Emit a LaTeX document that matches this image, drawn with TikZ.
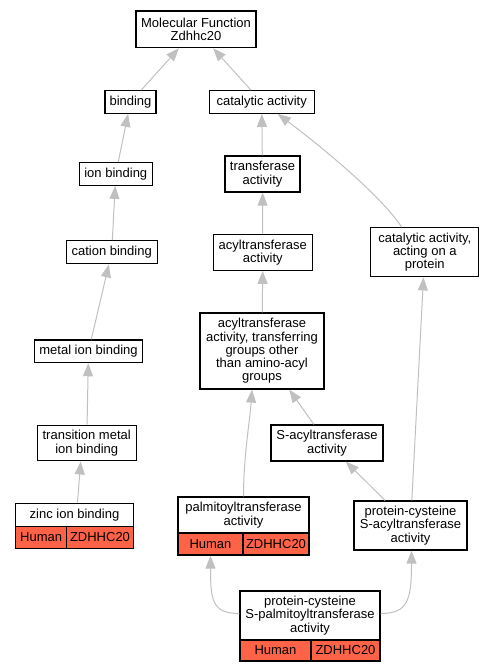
\documentclass[tikz,border=0pt]{standalone}
\usepackage{fontspec}
\setmainfont{Liberation Sans}
\usetikzlibrary{arrows.meta,calc}
\definecolor{edgegray}{RGB}{192,192,192}
\definecolor{genefill}{RGB}{255,99,71}
\newcommand{\nodefont}{\fontsize{13}{13.3}\selectfont}
\tikzset{
  box/.style={draw=black, line width=1.2pt, fill=white, inner sep=0pt, align=center, font=\nodefont},
  cell/.style={box, fill=genefill},
  edge/.style={draw=edgegray, line width=1pt, -{Triangle[length=13pt,width=10pt]}}
}
\begin{document}
\begin{tikzpicture}[x=1pt,y=-1pt]
\useasboundingbox (0,0) rectangle (495,672);
% plain term nodes
\node[box, minimum width=120pt, minimum height=36.7pt] (mf) at (196,29.3) {Molecular Function\\Zdhhc20};
\node[box, minimum width=51pt, minimum height=22.6pt] (bind) at (130.5,102) {binding};
\node[box, minimum width=105pt, minimum height=22.6pt] (cat) at (261.7,102) {catalytic activity};
\node[box, minimum width=73pt, minimum height=22.6pt] (ion) at (115.8,174) {ion binding};
\node[box, minimum width=75pt, minimum height=36pt] (trans) at (262.5,174) {transferase\\activity};
\node[box, minimum width=91pt, minimum height=23pt] (cation) at (111.7,252.3) {cation binding};
\node[box, minimum width=99pt, minimum height=36pt] (acyl) at (262.8,252.3) {acyltransferase\\activity};
\node[box, minimum width=108pt, minimum height=49pt] (cap) at (424.8,252.3) {catalytic activity,\\acting on a\\protein};
\node[box, minimum width=108pt, minimum height=22.7pt] (metal) at (88.5,351.3) {metal ion binding};
\node[box, minimum width=124pt, minimum height=76pt] (acylg) at (262,351) {acyltransferase\\activity, transferring\\groups other\\than amino-acyl\\groups};
\node[box, minimum width=99pt, minimum height=35.7pt] (transm) at (86.7,443) {transition metal\\ion binding};
\node[box, minimum width=112pt, minimum height=36pt] (sacyl) at (327,443) {S-acyltransferase\\activity};
\node[box, minimum width=113pt, minimum height=49pt] (pcsacyl) at (410.5,525.5) {protein-cysteine\\S-acyltransferase\\activity};
% gene-annotated nodes
\node[box, minimum width=117.6pt, minimum height=23.4pt] (zinc) at (74.5,515) {zinc ion binding};
\node[cell, minimum width=51pt, minimum height=21.6pt] (zincH) at (41.2,537.5) {Human};
\node[cell, minimum width=66.6pt, minimum height=21.6pt] (zincG) at (100,537.5) {ZDHHC20};
\node[box, minimum width=131pt, minimum height=36pt] (palm) at (243.5,515) {palmitoyltransferase\\activity};
\node[cell, minimum width=65pt, minimum height=22pt] (palmH) at (210.5,544) {Human};
\node[cell, minimum width=66pt, minimum height=22pt] (palmG) at (276,544) {ZDHHC20};
\node[box, minimum width=140pt, minimum height=49pt] (pcspalm) at (310,615.5) {protein-cysteine\\S-palmitoyltransferase\\activity};
\node[cell, minimum width=71pt, minimum height=21pt] (pcspalmH) at (275.5,650.5) {Human};
\node[cell, minimum width=69pt, minimum height=21pt] (pcspalmG) at (345.5,650.5) {ZDHHC20};
% edges
\draw[edge] (bind) -- (mf);
\draw[edge] (cat) -- (mf);
\draw[edge] (ion) -- (bind);
\draw[edge] (trans) -- (cat);
\draw[edge] (cation) -- (ion);
\draw[edge] (acyl) -- (trans);
\draw[edge] ($(cap.north)+(-23,0)$) .. controls +(-21.8,-32.7) and +(42.3,31.7) .. ($(cat.south)+(16,0)$);
\draw[edge] (metal) -- (cation);
\draw[edge] (acylg) -- (acyl);
\draw[edge] (transm) -- (metal);
\draw[edge] (sacyl) -- (acylg);
\draw[edge] ($(zinc.north)+(3,0)$) -- ($(transm.south)+(-6,0)$);
\draw[edge] (palm.north) .. controls +(0,-40) and +(-2,30) .. ($(acylg.south)+(-10,0)$);
\draw[edge] (pcsacyl) -- (sacyl);
\draw[edge] (pcsacyl) -- (cap);
\draw[edge] ($(pcspalm.west)+(0,-2)$) .. controls +(-27,0) and +(0,45) .. (palmH.south);
\draw[edge] ($(pcspalm.east)+(0,-2)$) .. controls +(27,0) and +(0,50) .. ($(pcsacyl.south)+(1,0)$);
\end{tikzpicture}
\end{document}
